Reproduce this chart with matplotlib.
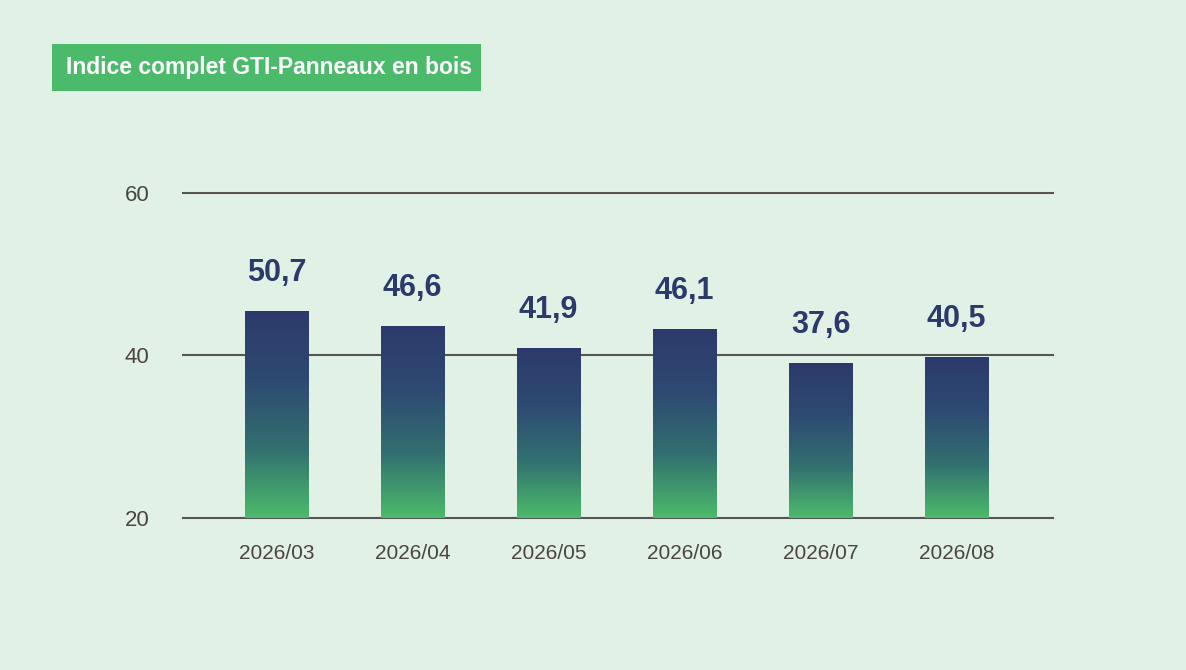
import numpy as np
import matplotlib
matplotlib.use("Agg")
import matplotlib.pyplot as plt
from matplotlib.patches import Rectangle
from matplotlib.colors import LinearSegmentedColormap

# ---- data ----
categories = ["2026/03", "2026/04", "2026/05", "2026/06", "2026/07", "2026/08"]
bar_values = [45.4, 43.6, 40.9, 43.2, 39.0, 39.8]          # heights as drawn in the picture
value_labels = ["50,7", "46,6", "41,9", "46,1", "37,6", "40,5"]  # printed labels
y_ticks = [20, 40, 60]
title = "Indice complet GTI-Panneaux en bois"

# ---- style ----
BG = "#e2f1e6"
NAVY = "#2c3a6b"
GREEN = "#4cbb6a"
GRID = "#555555"
TICK = "#4b4540"
FONT = ["Liberation Sans", "DejaVu Sans"]
plt.rcParams["font.family"] = FONT

W, H = 1186, 670
fig = plt.figure(figsize=(W / 100, H / 100), dpi=100, facecolor=BG)
ax = fig.add_axes([183 / W, 1 - 517.7 / H, (1053 - 183) / W, (517.7 - 192.7) / H])
ax.set_facecolor(BG)

x = np.arange(len(categories))

for t in y_ticks:
    ax.axhline(t, color=GRID, lw=1.5, zorder=1, clip_on=False)

cmap = LinearSegmentedColormap.from_list("g", [GREEN, "#327070", "#2e4a72", NAVY])
grad = np.linspace(0, 1, 256).reshape(-1, 1)
bw = 0.47
bars = ax.bar(x, bar_values, width=bw, color="none", edgecolor="none", zorder=2)
for b, v in zip(bars, bar_values):
    x0 = b.get_x()
    im = ax.imshow(grad, cmap=cmap, origin="lower", aspect="auto",
                   extent=(x0, x0 + bw, y_ticks[0], v), zorder=2, interpolation="bicubic")
    im.set_clip_path(b)

for xi, v, lab in zip(x, bar_values, value_labels):
    ax.annotate(lab, (xi, v), xytext=(0, 21.5), textcoords="offset points",
                ha="center", va="baseline", fontsize=22, fontweight="bold", color=NAVY)

ax.set_xticks(x)
ax.set_xticklabels(categories, fontsize=15, color=TICK)
ax.set_yticks(y_ticks)
ax.set_yticklabels([str(t) for t in y_ticks], fontsize=16, color=TICK)
ax.tick_params(axis="x", length=0, pad=19)
ax.tick_params(axis="y", length=0, pad=24)
for s in ax.spines.values():
    s.set_visible(False)
ax.set_xlim(-0.69, len(categories) - 1 + 0.71)
ax.set_ylim(y_ticks[0], y_ticks[-1])

# title box
fig.patches.append(Rectangle((52 / W, 1 - 91 / H), (481 - 52) / W, (91 - 44) / H,
                             transform=fig.transFigure, facecolor="#4cba6b",
                             edgecolor="none", zorder=0))
fig.text(66 / W, 1 - 67.5 / H, title, fontsize=16.5, fontweight="bold", color="white",
         ha="left", va="center")

fig.savefig("out.png", dpi=100, facecolor=BG)
